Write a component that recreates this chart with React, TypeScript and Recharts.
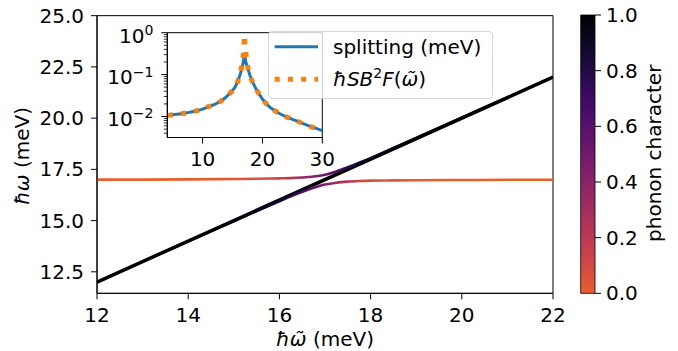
import React from 'react';
import { ComposedChart, LineChart, Line, XAxis, YAxis, ReferenceArea, Legend, Label } from 'recharts';

// ---------- main panel data ----------
const diagonalX = [12, 22];
const diagonalY = [12, 22];
const branchX = [12, 13, 14, 15, 15.5, 16, 16.25, 16.5, 16.75, 17, 17.25, 17.5, 17.75, 18, 18.5, 19, 20, 21, 22];
const upperY = [17.0, 17.0, 17.01, 17.03, 17.04, 17.06, 17.07, 17.1, 17.15, 17.24, 17.4, 17.6, 17.82, 18.05, 18.54, 19.03, 20.02, 21.01, 22.01];
const lowerY = [12.0, 13.0, 13.99, 14.97, 15.46, 15.94, 16.18, 16.4, 16.6, 16.76, 16.85, 16.9, 16.93, 16.95, 16.96, 16.97, 16.98, 16.99, 16.99];
const upperCharacter = [0, 0, 0.01, 0.03, 0.06, 0.14, 0.22, 0.33, 0.42, 0.52, 0.64, 0.76, 0.86, 0.93, 0.97, 0.99, 1, 1, 1];
const lowerCharacter = [1, 1, 0.99, 0.97, 0.94, 0.86, 0.78, 0.66, 0.55, 0.44, 0.33, 0.22, 0.13, 0.07, 0.03, 0.01, 0, 0, 0];
const mainXTicks = [12, 14, 16, 18, 20, 22];
const mainYTicks = [12.5, 15, 17.5, 20, 22.5, 25];
const mainXDomain = [12, 22];
const mainYDomain = [11.45, 25];

// ---------- inset data ----------
const splittingX = [4.2, 5, 6, 7, 8, 9, 10, 11, 12, 13, 14, 15, 15.5, 16, 16.5, 16.8, 17, 17.2, 17.5, 18, 18.5, 19, 20, 21, 22, 23, 24, 25, 26, 27, 28, 29, 30];
const splittingY = [0.0105, 0.011, 0.0115, 0.012, 0.0128, 0.0137, 0.015, 0.0172, 0.0195, 0.023, 0.03, 0.042, 0.053, 0.078, 0.13, 0.2, 0.3, 0.21, 0.15, 0.088, 0.06, 0.044, 0.026, 0.018, 0.014, 0.0115, 0.0098, 0.0086, 0.0075, 0.0066, 0.0058, 0.0052, 0.0046];
const spectralX = [4.2, 5, 6, 7, 8, 9, 10, 11, 12, 13, 14, 15, 15.5, 16, 16.5, 16.8, 16.95, 17.0, 17.05, 17.2, 17.5, 18, 18.5, 19, 20, 21, 22, 23, 24, 25, 26, 27, 28, 29, 30];
const spectralY = [0.0105, 0.011, 0.0115, 0.012, 0.0128, 0.0137, 0.015, 0.0172, 0.0195, 0.023, 0.03, 0.042, 0.053, 0.078, 0.15, 0.3, 0.65, 0.88, 0.65, 0.36, 0.17, 0.088, 0.06, 0.044, 0.026, 0.018, 0.014, 0.0115, 0.0098, 0.0086, 0.0075, 0.0066, 0.0058, 0.0052, 0.0046];
const insetXTicks = [10, 20, 30];
const insetYMajor = [0.01, 0.1, 1];
const insetYMinor = [0.004, 0.005, 0.006, 0.007, 0.008, 0.009, 0.02, 0.03, 0.04, 0.05, 0.06, 0.07, 0.08, 0.09, 0.2, 0.3, 0.4, 0.5, 0.6, 0.7, 0.8, 0.9];
const insetXDomain = [4.1, 30];
const insetYDomain = [0.00316, 1];

// ---------- colorbar ----------
const cbarTicks = [0, 0.2, 0.4, 0.6, 0.8, 1];
const cbarDomain = [0, 1];
const cbarSpanX = [0, 1];
const cbarSpanV = [0, 1];
const cmapStops: [number, string][] = [
  [0, '#e8602d'], [0.1, '#d24843'], [0.2, '#bd3853'], [0.3, '#a42d5f'], [0.4, '#8a2368'],
  [0.5, '#70196d'], [0.6, '#57116b'], [0.7, '#3d0a63'], [0.8, '#210b45'], [0.9, '#0e0725'], [1, '#000004'],
];

const FONT = 'DejaVu Sans';
const FS = 20;

function hexToRgb(h: string) {
  return [parseInt(h.slice(1, 3), 16), parseInt(h.slice(3, 5), 16), parseInt(h.slice(5, 7), 16)];
}
function cmap(v: number) {
  const t = Math.max(0, Math.min(1, v));
  for (let i = 0; i < cmapStops.length - 1; i++) {
    const [a, ca] = cmapStops[i];
    const [b, cb] = cmapStops[i + 1];
    if (t >= a && t <= b) {
      const f = (t - a) / (b - a);
      const A = hexToRgb(ca), B = hexToRgb(cb);
      const c = A.map((x, k) => Math.round(x + (B[k] - x) * f));
      return `rgb(${c[0]},${c[1]},${c[2]})`;
    }
  }
  return cmapStops[cmapStops.length - 1][1];
}

const diagonalData = diagonalX.map((x, i) => ({ x, y: diagonalY[i] }));
const upperData = branchX.map((x, i) => ({ x, y: upperY[i] }));
const lowerData = branchX.map((x, i) => ({ x, y: lowerY[i] }));
const splittingData = splittingX.map((x, i) => ({ x, splitting: splittingY[i] }));
const spectralData = spectralX.map((x, i) => ({ x, spectral: spectralY[i] }));
const cbarData = cbarSpanX.map((x, i) => ({ x, v: cbarSpanV[i] }));
const insetYTicks = [...insetYMinor, ...insetYMajor].sort((a, b) => a - b);

const gradStops = (chars: number[]) =>
  branchX.map((x, i) => (
    <stop key={i} offset={(x - mainXDomain[0]) / (mainXDomain[1] - mainXDomain[0])} stopColor={cmap(chars[i])} />
  ));

const InsetYTick = (props: any) => {
  const { x, y, payload } = props;
  const v = payload.value;
  const lg = Math.log10(v);
  const exp = Math.round(lg);
  const major = Math.abs(lg - exp) < 1e-6;
  return (
    <g>
      <line x1={x} x2={x - (major ? 6 : 3.5)} y1={y} y2={y} stroke="#000" strokeWidth={major ? 1 : 0.8} />
      {major && (
        <text x={x - 14} y={y + 9.8} textAnchor="end" fontSize={FS} fill="#000">
          10<tspan fontSize={14} dy={-7.9}>{exp === 0 ? '0' : '\u2212' + Math.abs(exp)}</tspan>
        </text>
      )}
    </g>
  );
};

const MathLabel = () => (
  <>
    <tspan fontStyle="italic">ħSB</tspan>
    <tspan fontSize={14} dy={-8}>2</tspan>
    <tspan dy={8} fontStyle="italic">F</tspan>
    <tspan>(</tspan>
    <tspan fontStyle="italic">{'ω\u0303'}</tspan>
    <tspan>)</tspan>
  </>
);

const LegendBox = (props: any) => {
  const payload = props.payload || [];
  return (
    <div style={{ width: 224.4, height: 68, boxSizing: 'border-box', border: '1px solid #d6d6d6', borderRadius: 4, background: 'rgba(255,255,255,0.8)', fontFamily: FONT }}>
      <svg width={222} height={66} style={{ display: 'block', overflow: 'visible' }}>
        {payload.map((e: any, i: number) => {
          const cy = 14.7 + i * 32.6;
          const dashed = e.dataKey === 'spectral';
          return (
            <g key={i}>
              <line x1={5.7} x2={49} y1={cy} y2={cy} stroke={e.color} strokeWidth={dashed ? 5 : 3} strokeDasharray={dashed ? '5 8.25' : undefined} />
              <text x={64} y={cy + 7} fontSize={FS} fill="#000">
                {dashed ? <MathLabel /> : e.value}
              </text>
            </g>
          );
        })}
      </svg>
    </div>
  );
};

const XLabelContent = () => (
  <text x={325} y={345.7} textAnchor="middle" fontSize={FS} fill="#000">
    <tspan fontStyle="italic">{'ħω\u0303'}</tspan>{' (meV)'}
  </text>
);
const YLabelContent = () => (
  <text transform="translate(29,156) rotate(-90)" textAnchor="middle" fontSize={FS} fill="#000">
    <tspan fontStyle="italic">ħω</tspan>{' (meV)'}
  </text>
);
const CbarLabelContent = () => (
  <text transform="translate(101.2,153.3) rotate(-90)" textAnchor="middle" fontSize={FS} fill="#000">
    phonon character
  </text>
);

const tickStyle = { fill: '#000', fontSize: FS, fontFamily: FONT };

export default function App() {
  return (
    <div style={{ position: 'absolute', left: 0, top: 0, width: 678, height: 351, background: '#fff', fontFamily: FONT }}>
      <div style={{ position: 'absolute', left: 0, top: 0 }}>
        <ComposedChart width={678} height={351} margin={{ top: 15.67, right: 125, bottom: 0, left: 37 }}>
          <defs>
            <linearGradient id="upperGrad" x1="0" y1="0" x2="1" y2="0">{gradStops(upperCharacter)}</linearGradient>
            <linearGradient id="lowerGrad" x1="0" y1="0" x2="1" y2="0">{gradStops(lowerCharacter)}</linearGradient>
          </defs>
          <XAxis type="number" dataKey="x" domain={mainXDomain} ticks={mainXTicks} interval={0} allowDataOverflow height={57.67} tickSize={6} tickMargin={8} stroke="#000" tick={tickStyle}>
            <Label content={XLabelContent} />
          </XAxis>
          <YAxis type="number" domain={mainYDomain} ticks={mainYTicks} interval={0} allowDataOverflow width={60} tickSize={6} tickMargin={7} stroke="#000" tick={tickStyle} tickFormatter={(v: number) => v.toFixed(1)}>
            <Label content={YLabelContent} />
          </YAxis>
          <ReferenceArea x1={mainXDomain[0]} x2={mainXDomain[1]} y1={mainYDomain[0]} y2={mainYDomain[1]} fill="none" fillOpacity={0} stroke="#000" strokeWidth={1} />
          <Line data={diagonalData} dataKey="y" type="linear" stroke="#000" strokeWidth={3.5} dot={false} activeDot={false} isAnimationActive={false} />
          <Line data={upperData} dataKey="y" type="monotone" stroke="url(#upperGrad)" strokeWidth={2.6} dot={false} activeDot={false} isAnimationActive={false} />
          <Line data={lowerData} dataKey="y" type="monotone" stroke="url(#lowerGrad)" strokeWidth={2.6} dot={false} activeDot={false} isAnimationActive={false} />
        </ComposedChart>
      </div>

      <div style={{ position: 'absolute', left: 100, top: 20 }}>
        <LineChart width={245} height={150} margin={{ top: 12.7, right: 22.7, bottom: 0, left: 0 }}>
          <XAxis type="number" dataKey="x" domain={insetXDomain} ticks={insetXTicks} interval={0} allowDataOverflow height={32.5} tickSize={6} tickMargin={8.5} stroke="#000" tick={tickStyle} />
          <YAxis type="number" scale="log" domain={insetYDomain} ticks={insetYTicks} interval={0} allowDataOverflow width={67.3} tickLine={false} tickSize={0} tickMargin={0} stroke="#000" tick={InsetYTick} />
          <ReferenceArea x1={insetXDomain[0]} x2={insetXDomain[1]} y1={insetYDomain[0]} y2={insetYDomain[1]} fill="none" fillOpacity={0} stroke="#000" strokeWidth={1} />
          <Line data={splittingData} dataKey="splitting" name="splitting (meV)" type="monotone" stroke="#1f77b4" strokeWidth={3} dot={false} activeDot={false} isAnimationActive={false} />
          <Line data={spectralData} dataKey="spectral" name="ħSB²F(ω̃)" type="monotone" stroke="#ff7f0e" strokeWidth={5} strokeDasharray="5 8.25" dot={false} activeDot={false} isAnimationActive={false} />
          <Legend layout="horizontal" verticalAlign="middle" align="center" content={LegendBox} wrapperStyle={{ position: 'absolute', left: 168.3, top: 11, width: 224.4, height: 68 }} />
        </LineChart>
      </div>

      <div style={{ position: 'absolute', left: 560, top: 0 }}>
        <ComposedChart width={118} height={351} data={cbarData} margin={{ top: 15, right: 0, bottom: 57.67, left: 20.7 }}>
          <defs>
            <linearGradient id="cbarGrad" x1="0" y1="1" x2="0" y2="0">
              {cmapStops.map(([o, c], i) => <stop key={i} offset={o} stopColor={c} />)}
            </linearGradient>
          </defs>
          <XAxis type="number" dataKey="x" domain={cbarDomain} hide />
          <YAxis type="number" orientation="right" domain={cbarDomain} ticks={cbarTicks} interval={0} width={83} tickSize={6} tickMargin={5} axisLine={false} stroke="#000" tick={tickStyle} tickFormatter={(v: number) => v.toFixed(1)}>
            <Label content={CbarLabelContent} />
          </YAxis>
          <ReferenceArea x1={0} x2={1} y1={0} y2={1} fill="url(#cbarGrad)" fillOpacity={1} stroke="#000" strokeWidth={0.8} />
          <Line dataKey="v" stroke="none" strokeWidth={0} dot={false} activeDot={false} legendType="none" isAnimationActive={false} />
        </ComposedChart>
      </div>
    </div>
  );
}
